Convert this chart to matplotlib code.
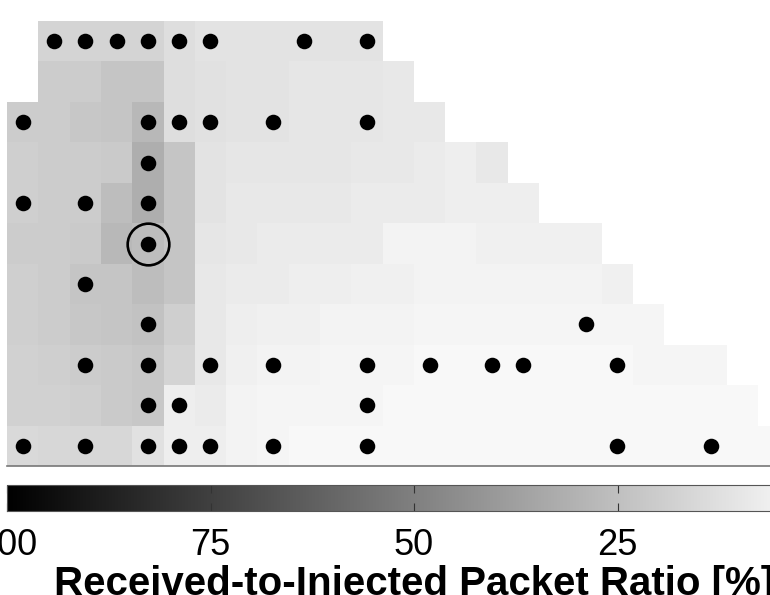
import numpy as np
import matplotlib
matplotlib.use('Agg')
import matplotlib.pyplot as plt

plt.rcParams['font.family'] = ['Liberation Sans', 'DejaVu Sans']

n_cols = 25
# received-to-injected ratio per cell [%], row 0 at top; missing cells left empty
ratio_rows = [
    [None, 17, 17, 17, 17, 13, 11, 11, 11, 11, 11, 11],
    [None, 20, 20, 23, 23, 13, 12, 11, 11, 10, 10, 10, 9],
    [20, 20, 22, 23, 28, 13, 12, 11, 11, 10, 10, 10, 9, 9],
    [19, 20, 20, 21, 32, 23, 11, 10, 10, 10, 10, 9, 9, 8, 7, 9],
    [19, 20, 20, 26, 32, 23, 11, 9, 9, 9, 9, 8, 8, 8, 7, 7, 7],
    [20, 20, 21, 28, 26, 23, 10, 9, 8, 8, 8, 8, 5, 5, 5, 6, 6, 6, 6],
    [19, 20, 23, 23, 26, 23, 9, 8, 8, 7, 7, 6, 6, 5, 5, 5, 5, 5, 5, 6],
    [19, 20, 22, 23, 24, 19, 9, 7, 6, 6, 5, 5, 5, 4, 4, 4, 4, 4, 4, 4, 4],
    [18, 19, 20, 21, 22, 17, 9, 6, 5, 5, 4, 4, 4, 3, 3, 3, 3, 3, 3, 3, 4, 4, 4],
    [18, 18, 19, 21, 22, 7, 8, 5, 4, 4, 4, 4, 3, 3, 3, 3, 3, 3, 3, 3, 3, 3, 3, 3],
    [15, 16, 16, 16, 12, 7, 7, 5, 4, 3, 3, 3, 3, 3, 3, 3, 3, 3, 3, 3, 3, 3, 3, 3, 3],
]

# measured positions (row, column)
dot_rows = [0, 0, 0, 0, 0, 0, 0, 0,
            2, 2, 2, 2, 2, 2,
            3,
            4, 4, 4,
            5,
            6,
            7, 7,
            8, 8, 8, 8, 8, 8, 8, 8, 8,
            9, 9, 9,
            10, 10, 10, 10, 10, 10, 10, 10, 10]
dot_cols = [1, 2, 3, 4, 5, 6, 9, 11,
            0, 4, 5, 6, 8, 11,
            4,
            0, 2, 4,
            4,
            2,
            4, 18,
            2, 4, 6, 8, 11, 13, 15, 16, 19,
            4, 5, 11,
            0, 2, 4, 5, 6, 8, 11, 19, 22]
best_row, best_col = 5, 4

cbar_ticks = [100, 75, 50, 25]

grid = np.full((len(ratio_rows), n_cols), np.nan)
for i, row in enumerate(ratio_rows):
    for j, v in enumerate(row):
        if v is not None:
            grid[i, j] = v
grid = np.ma.masked_invalid(grid)

fig = plt.figure(figsize=(7.7, 5.95), dpi=100)
W, H = 770, 595
cell_w = 31.3
ax = fig.add_axes([7 / W, 1 - 466 / H, n_cols * cell_w / W, 445 / H])

mesh = ax.pcolormesh(np.arange(n_cols + 1), np.arange(len(ratio_rows) + 1), grid,
                     cmap='gray_r', vmin=0, vmax=100)
ax.plot(np.array(dot_cols) + 0.5, np.array(dot_rows) + 0.5, 'o', color='black',
        markersize=11.2, markeredgewidth=0)
ax.plot(best_col + 0.5, best_row + 0.5, 'o', markerfacecolor='none',
        markeredgecolor='black', markersize=30, markeredgewidth=1.9)

ax.set_xlim(0, n_cols)
ax.set_ylim(len(ratio_rows), 0)
ax.set_xticks([])
ax.set_yticks([])
for side in ['left', 'right', 'top']:
    ax.spines[side].set_visible(False)
ax.spines['bottom'].set_color('#777777')
ax.spines['bottom'].set_linewidth(1.2)

cax = fig.add_axes([7 / W, 1 - 511 / H, 814 / W, 26 / H])
cbar = fig.colorbar(mesh, cax=cax, orientation='horizontal', ticks=cbar_ticks)
cax.invert_xaxis()
cbar.outline.set_edgecolor('#555555')
cbar.outline.set_linewidth(0.8)
cax.tick_params(axis='x', direction='in', top=True, bottom=True, length=6,
                width=0.8, color='#333333', labelsize=26, pad=12)
cbar.set_label('Received-to-Injected Packet Ratio [%]', fontsize=29,
               fontweight='bold', labelpad=2)

fig.savefig('out.png', dpi=100)
